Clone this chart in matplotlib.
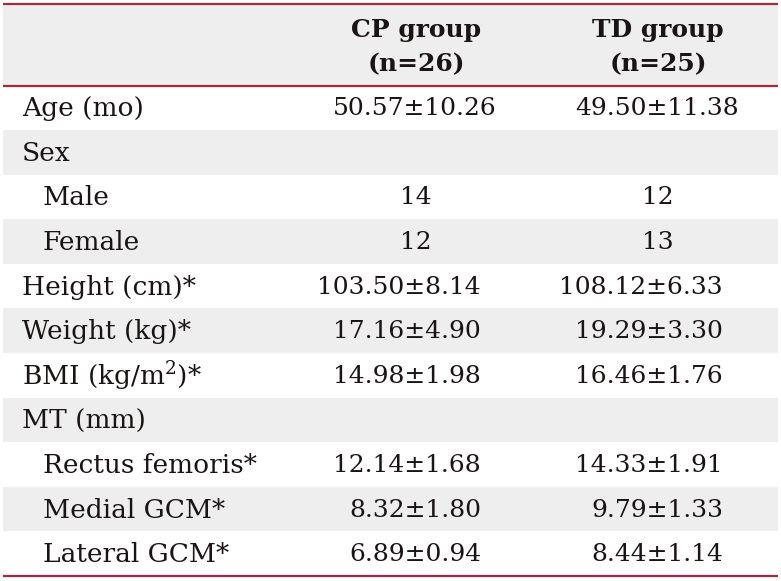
import matplotlib
matplotlib.use("Agg")
import matplotlib.pyplot as plt
from matplotlib.patches import Rectangle

# datos de la tabla
encabezados = ["CP group\n(n=26)", "TD group\n(n=25)"]
etiquetas = ["Age (mo)", "Sex", "Male", "Female", "Height (cm)*", "Weight (kg)*",
             "BMI (kg/m$^2$)*", "MT (mm)", "Rectus femoris*", "Medial GCM*", "Lateral GCM*"]
sangria = [False, False, True, True, False, False, False, False, True, True, True]
cp_vals = ["50.57±10.26", "", "14", "12", "103.50±8.14", "17.16±4.90", "14.98±1.98",
           "", "12.14±1.68", "8.32±1.80", "6.89±0.94"]
td_vals = ["49.50±11.38", "", "12", "13", "108.12±6.33", "19.29±3.30", "16.46±1.76",
           "", "14.33±1.91", "9.79±1.33", "8.44±1.14"]

rojo = "#a3293c"
gris = "#eeeeee"
negro = "#1a1414"
fuente = "DejaVu Serif"
tam_et = 19
tam = 18
plt.rcParams["mathtext.fontset"] = "dejavuserif"

fig = plt.figure(figsize=(7.81, 5.81), dpi=100)
ax = fig.add_axes([0, 0, 1, 1])
ax.set_xlim(0, 781)
ax.set_ylim(581, 0)
ax.axis("off")
renderer = fig.canvas.get_renderer()


def ancho(s):
    # ancho de un texto en pixeles
    t = ax.text(0, 0, s, fontsize=tam, family=fuente)
    w = t.get_window_extent(renderer).width
    t.remove()
    return w


x0, x1 = 3, 778
y_top, y_head = 3.5, 85.5
alto = (576 - y_head) / len(etiquetas)
col_x = [416, 658]

# encabezado
ax.add_patch(Rectangle((x0, y_top), x1 - x0, y_head - y_top, color=gris, lw=0))
for txt, xc in zip(encabezados, col_x):
    ax.text(xc, 47, txt, ha="center", va="center",
            fontsize=tam, fontweight="bold", family=fuente, linespacing=1.55, color=negro)

for i, et in enumerate(etiquetas):
    y = y_head + i * alto
    if i % 2 == 1:
        ax.add_patch(Rectangle((x0, y), x1 - x0, alto, color=gris, lw=0))
    yc = y + alto / 2 + 1
    ax.text(43 if sangria[i] else 22, yc, et, ha="left", va="center",
            fontsize=tam_et, family=fuente, color=negro)
    for val, xc in zip([cp_vals[i], td_vals[i]], col_x):
        if "±" in val:
            # alinear por el signo ±
            pre = val.split("±")[0]
            xs = xc - 1 - ancho(pre) - ancho("±") / 2
            ax.text(xs, yc, val, ha="left", va="center", fontsize=tam, family=fuente, color=negro)
        elif val:
            ax.text(xc, yc, val, ha="center", va="center", fontsize=tam, family=fuente, color=negro)

for yl in [y_top, y_head, 576]:
    ax.plot([x0, x1], [yl, yl], color=rojo, lw=1.6, solid_capstyle="butt")

fig.savefig("out.png", dpi=100)
